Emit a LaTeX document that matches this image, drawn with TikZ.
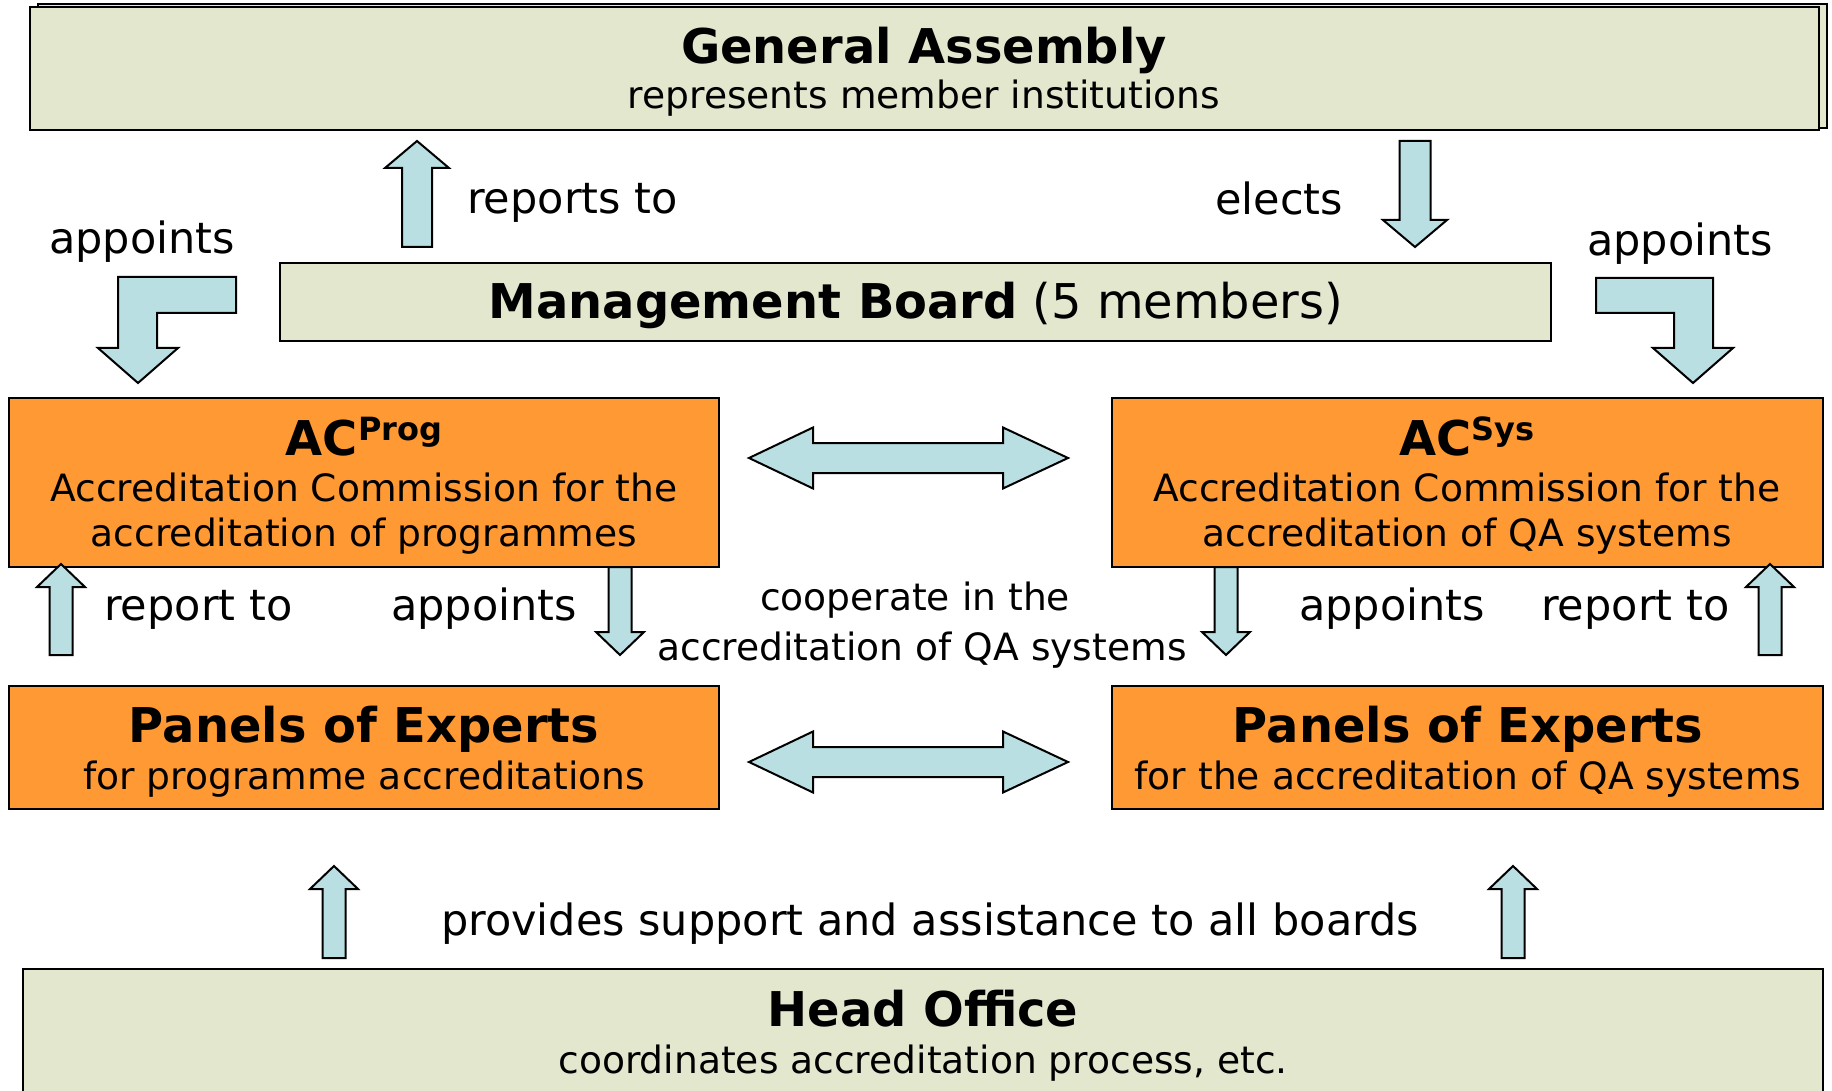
\documentclass[tikz,border=0pt]{standalone}
\usepackage{fontspec}
\setmainfont{DejaVu Sans}
\usetikzlibrary{calc}
\definecolor{gabg}{RGB}{227,231,206}
\definecolor{orng}{RGB}{255,153,51}
\definecolor{arrbl}{RGB}{185,223,227}
% vertical block arrow: cx, tip y, head-base y, tail y, half shaft, half head
\newcommand\vblock[6]{\draw[barrow] (#1,#2) -- (#1+#6,#3) -- (#1+#5,#3) -- (#1+#5,#4) -- (#1-#5,#4) -- (#1-#5,#3) -- (#1-#6,#3) -- cycle;}
% horizontal double block arrow: left tip x, right tip x, centre y
\newcommand\hdbl[3]{\draw[barrow] (#1,#3) -- (#1+64,#3-30.5) -- (#1+64,#3-15) -- (#2-65,#3-15) -- (#2-65,#3-30.5) -- (#2,#3) -- (#2-65,#3+30.5) -- (#2-65,#3+15) -- (#1+64,#3+15) -- (#1+64,#3+30.5) -- cycle;}
\begin{document}
\begin{tikzpicture}[x=1pt,y=-1pt,
  box/.style={draw=black, line width=1.5pt, inner sep=0pt, outer sep=0pt, anchor=north west},
  light/.style={box, fill=gabg},
  org/.style={box, fill=orng},
  barrow/.style={draw=black, fill=arrbl, line width=2pt, line join=miter},
  body/.style={font=\fontsize{43}{50}\selectfont, anchor=base, inner sep=0pt},
  bodyw/.style={body, anchor=base west},
  sub/.style={font=\fontsize{37.6}{44}\selectfont, anchor=base, inner sep=0pt},
  ttl/.style={font=\fontsize{47.9}{56}\selectfont\bfseries, anchor=base, inner sep=0pt}]
\useasboundingbox (0,0) rectangle (1832,1091);
\clip (0,0) rectangle (1832,1091);
\fill[white] (0,0) rectangle (1832,1091);

% boxes
\node[light, minimum width=1789pt, minimum height=124pt] (gaback) at (38,4) {};
\node[light, minimum width=1789pt, minimum height=123pt] (ga) at (30,7) {};
\node[light, minimum width=1271pt, minimum height=78pt] (mb) at (280,263) {};
\node[org, minimum width=710pt, minimum height=169pt] (acp) at (9,398) {};
\node[org, minimum width=711pt, minimum height=169pt] (acs) at (1112,398) {};
\node[org, minimum width=710pt, minimum height=123pt] (pep) at (9,686) {};
\node[org, minimum width=711pt, minimum height=123pt] (pes) at (1112,686) {};
\node[light, minimum width=1800pt, minimum height=150pt] (ho) at (23,969) {};

% texts in boxes
\node[ttl] (gat) at (924,64) {General Assembly};
\node[sub] (gas) at (924,109) {represents member institutions};
\node[ttl, font=\fontsize{47.9}{56}\selectfont] (mbt) at (916,319) {\bfseries Management Board\mdseries{} (5 members)};
\node[ttl] (acpt) at (364,455) {AC\raisebox{15pt}{\fontsize{32}{32}\selectfont Prog}};
\node[sub] (acp1) at (364,501) {Accreditation Commission for the};
\node[sub] (acp2) at (364,546) {accreditation of programmes};
\node[ttl] (acst) at (1467,455) {AC\raisebox{15pt}{\fontsize{32}{32}\selectfont Sys}};
\node[sub] (acs1) at (1467,501) {Accreditation Commission for the};
\node[sub] (acs2) at (1467,546) {accreditation of QA systems};
\node[ttl] (pept) at (364,742) {Panels of Experts};
\node[sub] (peps) at (364,789) {for programme accreditations};
\node[ttl] (pest) at (1468,742) {Panels of Experts};
\node[sub] (pess) at (1468,789) {for the accreditation of QA systems};
\node[ttl] (hot) at (923,1026) {Head Office};
\node[sub] (hos) at (923,1073) {coordinates accreditation process, etc.};

% free labels
\node[bodyw] (lrep) at (467,214) {reports to};
\node[bodyw] (lel) at (1215,215) {elects};
\node[bodyw] (lapl) at (49,254) {appoints};
\node[bodyw] (lapr) at (1587,256) {appoints};
\node[bodyw] (lr1) at (104,620) {report to};
\node[bodyw] (la1) at (391,620) {appoints};
\node[bodyw] (la2) at (1299,620) {appoints};
\node[bodyw] (lr2) at (1541,620) {report to};
\node[sub] (lc1) at (915,610) {cooperate in the};
\node[sub] (lc2) at (922,660) {accreditation of QA systems};
\node[body] (lprov) at (930,935) {provides support and assistance to all boards};

% block arrows
\vblock{417}{141}{168}{247}{15}{32}
\vblock{1415}{247}{220}{141}{15.5}{32}
\vblock{61}{564}{587}{655}{11.5}{24}
\vblock{620}{655}{632}{567}{11.5}{24}
\vblock{1226}{655}{632}{567}{11.5}{24}
\vblock{1770}{564}{587}{655}{11.5}{24}
\vblock{334}{866}{889}{958}{11.5}{24}
\vblock{1513}{866}{889}{958}{11.5}{24}

% bent arrows
\draw[barrow] (118,277) -- (236,277) -- (236,313) -- (157,313) -- (157,348) -- (178,348) -- (138,383) -- (98,348) -- (118,348) -- cycle;
\draw[barrow] (1596,278) -- (1713,278) -- (1713,348) -- (1733,348) -- (1693,383) -- (1653,348) -- (1674,348) -- (1674,313) -- (1596,313) -- cycle;

% double arrows
\hdbl{749}{1068}{458}
\hdbl{749}{1068}{762}
\end{tikzpicture}
\end{document}
